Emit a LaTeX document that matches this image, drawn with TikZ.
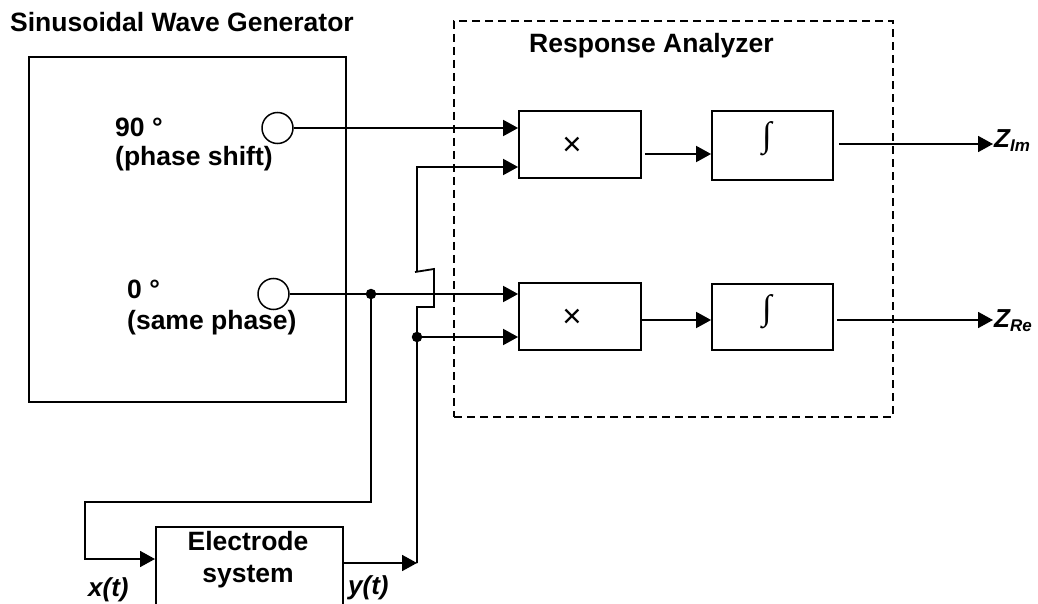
\documentclass[tikz,border=0pt]{standalone}
\usepackage{fontspec}
\setmainfont{Liberation Sans}
\newfontfamily\intfont{Liberation Serif}
\usetikzlibrary{arrows.meta,calc}
\begin{document}
\begin{tikzpicture}[x=1pt,y=-1pt,
  box/.style={draw,line width=1.8pt,rectangle,inner sep=0pt},
  wire/.style={line width=1.8pt},
  arr/.style={wire,-{Triangle[length=15pt,width=16pt]}},
  lbl/.style={inner sep=0pt,anchor=base west,font=\fontsize{26.5}{30}\selectfont\bfseries},
  clbl/.style={inner sep=0pt,anchor=base,font=\fontsize{26.5}{30}\selectfont\bfseries},
  dot/.style={circle,fill,inner sep=0pt,minimum size=10.5pt},
  port/.style={circle,draw,line width=1.5pt,minimum size=31pt,inner sep=0pt},
  mul/.style={inner sep=0pt,font=\fontsize{33}{33}\selectfont},
  intg/.style={inner sep=0pt,font=\intfont\fontsize{35}{35}\selectfont},
  zlbl/.style={inner sep=0pt,anchor=base west,font=\fontsize{26}{26}\selectfont\bfseries\itshape}]
\useasboundingbox (0,0) rectangle (1038,604);
\clip (0,0) rectangle (1038,604);

% generator
\node[lbl] (gtitle) at (10,32) {Sinusoidal Wave Generator};
\node[box,minimum width=317pt,minimum height=345pt] (gen) at (187.5,229.5) {};
\node[port] (c90) at (277.5,128) {};
\node[port] (c0) at (273.5,294) {};
\node[lbl] (t90) at (115,137) {90 °};
\node[lbl] (t90b) at (115,166) {(phase shift)};
\node[lbl] (t0) at (127,298) {0 °};
\node[lbl] (t0b) at (127,329) {(same phase)};

% response analyzer
\node[draw,dash pattern=on 8pt off 5pt,line width=1.8pt,minimum width=439pt,minimum height=396pt,inner sep=0pt] (ra) at (673.5,219) {};
\node[lbl] (ratitle) at (529,53) {Response Analyzer};
\node[box,minimum width=122pt,minimum height=67pt] (m1) at (580,144.5) {};
\node[box,minimum width=122pt,minimum height=67pt] (m2) at (580,316.5) {};
\node[box,minimum width=121pt,minimum height=69pt] (i1) at (772.5,145.5) {};
\node[box,minimum width=121pt,minimum height=66pt] (i2) at (772.5,317) {};
\node[mul] (x1) at (572,146) {×};
\node[mul] (x2) at (572,318) {×};
\node[intg] (s1) at (767,139) {∫};
\node[intg] (s2) at (767,312) {∫};

% electrode
\node[box,anchor=north west,minimum width=187pt,minimum height=120pt] (elec) at (155,526) {};
\node[clbl] (etext1) at (248,550) {Electrode};
\node[clbl] (etext2) at (248,582) {system};
\node[zlbl] (xt) at (88,596) {x(t)};
\node[zlbl] (yt) at (348,594) {y(t)};

% outputs
\coordinate (zimtip) at (993,144);
\coordinate (zretip) at (993,320);
\node[zlbl] (zim) at (994,148) {Z\raisebox{-4pt}{\fontsize{17}{17}\selectfont Im}};
\node[zlbl] (zre) at (994,327) {Z\raisebox{-4pt}{\fontsize{17}{17}\selectfont Re}};

% junctions
\node[dot] (d1) at (371,294) {};
\node[dot] (d2) at (417,337) {};
\coordinate (k1) at (371,502);
\coordinate (k2) at (85,502);
\coordinate (xin) at (155,559);
\coordinate (eout) at (342,563);
\coordinate (j0) at (417,563);
\coordinate (b1) at (417,307);
\coordinate (b2) at (434,307);
\coordinate (b3) at (434,269);
\coordinate (b4) at (415,272);
\coordinate (b5) at (417,272);
\coordinate (t1) at (417,167);

% wires
\draw[arr] (c90.east) -- (c90.east -| m1.west);
\draw[arr] (c0.east) -- (c0.east -| m2.west);
\draw[arr] (d1.center) -- (k1) -- (k2) -- (k2 |- xin) -- (xin);
\draw[arr] (eout) -- (j0);
\draw[wire] (j0) -- (b1) -- (b2) -- (b3) -- (b4);
\draw[arr] (b5) -- (t1) -- (t1 -| m1.west);
\draw[arr] (d2.center) -- (d2.center -| m2.west);
\draw[arr] ($(m1.east |- 0,154)+(3,0)$) -- (i1.west |- 0,154);
\draw[arr] (m2.east |- 0,320) -- (i2.west |- 0,320);
\draw[arr] ($(i1.east |- zimtip)+(5,0)$) -- (zimtip);
\draw[arr] ($(i2.east |- zretip)+(3,0)$) -- (zretip);
\end{tikzpicture}
\end{document}
